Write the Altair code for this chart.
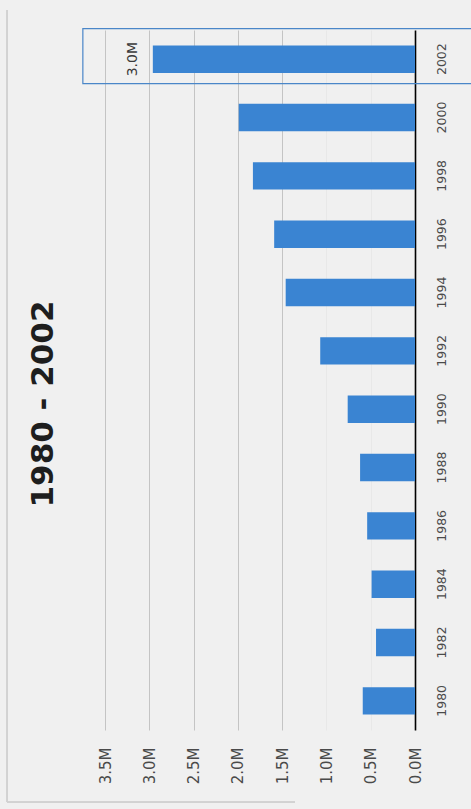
import altair as alt
import pandas as pd

# Yearly totals, in millions
years = [1980, 1982, 1984, 1986, 1988, 1990, 1992, 1994, 1996, 1998, 2000, 2002]
values_m = [0.59, 0.44, 0.49, 0.54, 0.62, 0.76, 1.07, 1.46, 1.59, 1.83, 1.99, 2.96]
value_ticks = [0.0, 0.5, 1.0, 1.5, 2.0, 2.5, 3.0, 3.5]
title_text = "1980 - 2002"
highlight_year = 2002

df = pd.DataFrame({"year": years, "value": values_m})
year_order = sorted(years, reverse=True)

FONT = "DejaVu Sans"
LABEL_COLOR = "#4a4a4a"

x_scale = alt.Scale(domain=[0, 3.5], reverse=True, nice=False, zero=True)
y_scale = alt.Scale(paddingInner=0.53, paddingOuter=0.265)

x_axis = alt.Axis(
    orient="bottom",
    values=value_ticks,
    labelExpr="format(datum.value, '.1f') + 'M'",
    labelAngle=270,
    labelAlign="right",
    labelBaseline="middle",
    labelPadding=17,
    labelFont=FONT,
    labelFontSize=15,
    labelColor=LABEL_COLOR,
    ticks=False,
    domain=False,
    grid=True,
    gridColor=alt.condition("datum.value >= 1.5", alt.value("#c4c4c4"), alt.value("#e8e8e8")),
    gridWidth=1,
    title=None,
)

y_axis = alt.Axis(
    orient="right",
    labelAngle=270,
    labelAlign="center",
    labelBaseline="top",
    labelPadding=20,
    labelFont=FONT,
    labelFontSize=12.5,
    labelColor=LABEL_COLOR,
    ticks=False,
    tickSize=0,
    domain=True,
    domainColor="#000000",
    domainWidth=1.6,
    grid=False,
    title=None,
)

base = alt.Chart(df)

bars = base.mark_bar(color="#3a84d2").encode(
    x=alt.X("value:Q", scale=x_scale, axis=x_axis),
    y=alt.Y("year:O", sort=year_order, scale=y_scale, axis=y_axis),
)

# Value label on the highlighted year
label = (
    base.transform_filter(alt.datum.year == highlight_year)
    .transform_calculate(txt="format(datum.value, '.1f') + 'M'")
    .mark_text(
        angle=270,
        align="center",
        baseline="alphabetic",
        dy=-16,
        font=FONT,
        fontSize=14,
        color="#3a3a3a",
    )
    .encode(
        x=alt.X("value:Q", scale=x_scale),
        y=alt.Y("year:O", sort=year_order, scale=y_scale),
        text="txt:N",
    )
)

# Outline around the highlighted row
box_df = pd.DataFrame({"year": [highlight_year], "start": [3.75], "end": [-0.64]})
box = (
    alt.Chart(box_df)
    .mark_bar(size=55, yOffset=-3, fillOpacity=0, stroke="#4a86c8", strokeWidth=1.2)
    .encode(
        x=alt.X("start:Q", scale=x_scale),
        x2="end:Q",
        y=alt.Y("year:O", sort=year_order, scale=y_scale),
    )
)

# Faint page frame
frame_left = alt.Chart(df).mark_rule(color="#d2d2d2", strokeWidth=1).encode(
    x=alt.value(-98), y=alt.value(-20), y2=alt.value(772)
)
frame_bottom = alt.Chart(df).mark_rule(color="#d2d2d2", strokeWidth=1).encode(
    x=alt.value(-98), x2=alt.value(190), y=alt.value(772)
)

chart = (
    alt.layer(frame_left, frame_bottom, bars, box, label)
    .properties(
        width=310,
        height=700,
        title=alt.TitleParams(
            text=title_text,
            orient="left",
            anchor="middle",
            font=FONT,
            fontSize=31,
            fontWeight="bold",
            color="#1e1e1e",
            baseline="alphabetic",
            offset=-77,
            dx=-24,
        ),
        background="#f0f0f0",
        padding={"left": 105, "top": 30, "right": 56, "bottom": 79},
        autosize=alt.AutoSizeParams(type="none"),
    )
    .configure_view(stroke=None)
)

chart.save("out.html", embed_options={"renderer": "svg", "actions": False})
